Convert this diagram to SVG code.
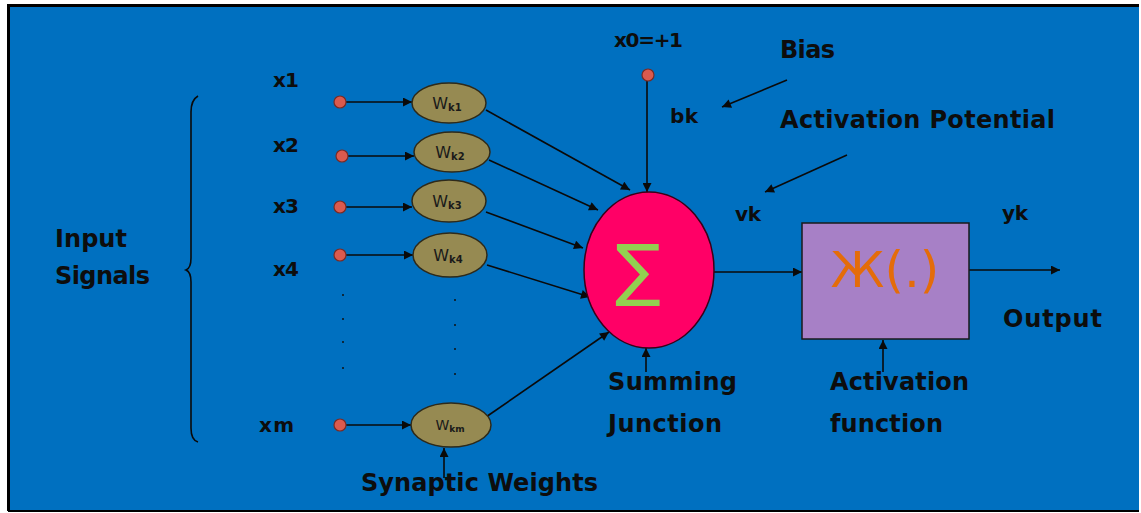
<svg xmlns="http://www.w3.org/2000/svg" width="1141" height="513" viewBox="0 0 1141 513">
<defs>
<marker id="ah" viewBox="0 0 10 10" refX="10" refY="5" markerWidth="11" markerHeight="9" markerUnits="userSpaceOnUse" orient="auto">
<path d="M0,0 L10,5 L0,10 z" fill="#0a0a0a"/>
</marker>
<style>
.lbl{font-family:"DejaVu Sans","Liberation Sans",sans-serif;font-weight:bold;fill:#0d0d0d}
.sm{font-size:20px}
.big{font-size:24px}
.wt{font-family:"DejaVu Sans","Liberation Sans",sans-serif;fill:#1a1a1a}
.in{fill:#DB5A4E;stroke:#7a2a24;stroke-width:1.2}
.w{fill:#968A52;stroke:#2e2a1a;stroke-width:1.5}
.c line,.c path{stroke:#0a0a0a;stroke-width:1.6;fill:none}
.a{marker-end:url(#ah)}
.dot{fill:#111}
</style>
</defs>
<rect x="0" y="0" width="1141" height="513" fill="#ffffff"/>
<rect x="8" y="5" width="1131" height="506" fill="#0070C0"/>
<path d="M8.5,511 L8.5,5.5 L1139,5.5" fill="none" stroke="#000" stroke-width="3"/>
<line x1="8" y1="511" x2="1139" y2="511" stroke="#000" stroke-width="2"/>

<g class="c" id="connectors">
<line class="a" x1="346" y1="102" x2="412" y2="102"/>
<line class="a" x1="348" y1="156" x2="414" y2="156"/>
<line class="a" x1="346" y1="207" x2="412" y2="207"/>
<line class="a" x1="346" y1="255" x2="413" y2="255"/>
<line class="a" x1="346" y1="425" x2="411" y2="425"/>
<line class="a" x1="486" y1="110" x2="630" y2="190"/>
<line class="a" x1="489" y1="160" x2="598" y2="210"/>
<line class="a" x1="486" y1="212" x2="583" y2="248"/>
<line class="a" x1="487" y1="265" x2="590" y2="297"/>
<line class="a" x1="486" y1="417" x2="609" y2="332"/>
<line class="a" x1="647" y1="81" x2="647" y2="192"/>
<line class="a" x1="714" y1="272" x2="802" y2="272"/>
<line class="a" x1="969" y1="270" x2="1060" y2="270"/>
<line class="a" x1="646" y1="372" x2="646" y2="348"/>
<line class="a" x1="883" y1="372" x2="883" y2="340"/>
<line class="a" x1="444" y1="478" x2="444" y2="448"/>
<line class="a" x1="787" y1="80" x2="722" y2="107"/>
<line class="a" x1="847" y1="155" x2="765" y2="192"/>
<path d="M198,96 Q191,100 191,112 L191,258 Q191,268 186,270 Q191,272 191,282 L191,428 Q191,440 198,442"/>
</g>

<g id="inputs">
<circle class="in" cx="340" cy="102" r="6"/>
<circle class="in" cx="342" cy="156" r="6"/>
<circle class="in" cx="340" cy="207" r="6"/>
<circle class="in" cx="340" cy="255" r="6"/>
<circle class="in" cx="340" cy="425" r="6"/>
<circle class="in" cx="648" cy="75" r="6"/>
</g>

<g id="dots">
<circle class="dot" cx="343" cy="295" r="1"/>
<circle class="dot" cx="343" cy="319" r="1"/>
<circle class="dot" cx="343" cy="342" r="1"/>
<circle class="dot" cx="343" cy="368" r="1"/>
<circle class="dot" cx="455" cy="300" r="1"/>
<circle class="dot" cx="455" cy="325" r="1"/>
<circle class="dot" cx="455" cy="349" r="1"/>
<circle class="dot" cx="455" cy="374" r="1"/>
</g>

<g id="w1"><ellipse class="w" cx="449" cy="103" rx="37" ry="20"/><text class="wt" x="447" y="109" text-anchor="middle" font-size="16">W<tspan font-size="10" font-weight="bold" dy="2">k1</tspan></text></g>
<g id="w2"><ellipse class="w" cx="452" cy="152" rx="38" ry="20"/><text class="wt" x="450" y="158" text-anchor="middle" font-size="16">W<tspan font-size="10" font-weight="bold" dy="2">k2</tspan></text></g>
<g id="w3"><ellipse class="w" cx="449" cy="201" rx="37" ry="21"/><text class="wt" x="447" y="207" text-anchor="middle" font-size="16">W<tspan font-size="10" font-weight="bold" dy="2">k3</tspan></text></g>
<g id="w4"><ellipse class="w" cx="450" cy="255" rx="37" ry="22"/><text class="wt" x="448" y="261" text-anchor="middle" font-size="16">W<tspan font-size="10" font-weight="bold" dy="2">k4</tspan></text></g>
<g id="wm"><ellipse class="w" cx="451" cy="425" rx="40" ry="22"/><text class="wt" x="450" y="430" text-anchor="middle" font-size="14">W<tspan font-size="9" font-weight="bold" dy="2">km</tspan></text></g>

<g id="sum">
<ellipse cx="649" cy="270" rx="65" ry="78" fill="#FF0066" stroke="#3a0018" stroke-width="1.5"/>
<text x="638" y="293" text-anchor="middle" font-family="DejaVu Sans, sans-serif" font-size="68" fill="#92D050">∑</text>
</g>

<g id="act">
<rect x="802" y="223" width="167" height="116" fill="#A780C6" stroke="#1a1a1a" stroke-width="1.5"/>
<text x="885" y="287" text-anchor="middle" font-family="DejaVu Sans, sans-serif" font-size="50" fill="#E46C0A">Ж(.)</text>
</g>

<g id="labels">
<text class="lbl sm" x="273" y="87" textLength="26">x1</text>
<text class="lbl sm" x="273" y="152" textLength="26">x2</text>
<text class="lbl sm" x="273" y="213" textLength="26">x3</text>
<text class="lbl sm" x="273" y="276" textLength="26">x4</text>
<text class="lbl sm" x="259" y="432" textLength="35">xm</text>
<text class="lbl sm" x="614" y="47" textLength="69">x0=+1</text>
<text class="lbl sm" x="670" y="123" textLength="28">bk</text>
<text class="lbl sm" x="735" y="221" textLength="26">vk</text>
<text class="lbl sm" x="1002" y="220" textLength="26">yk</text>
<text class="lbl big" x="780" y="58" textLength="55">Bias</text>
<text class="lbl big" x="780" y="128" textLength="275">Activation Potential</text>
<text class="lbl big" x="55" y="247" textLength="72">Input</text>
<text class="lbl big" x="55" y="284" textLength="95">Signals</text>
<text class="lbl big" x="608" y="390" textLength="129">Summing</text>
<text class="lbl big" x="608" y="432" textLength="114">Junction</text>
<text class="lbl big" x="830" y="390" textLength="139">Activation</text>
<text class="lbl big" x="830" y="432" textLength="113">function</text>
<text class="lbl big" x="1003" y="327" textLength="99">Output</text>
<text class="lbl big" x="361" y="491" textLength="237">Synaptic Weights</text>
</g>
</svg>
